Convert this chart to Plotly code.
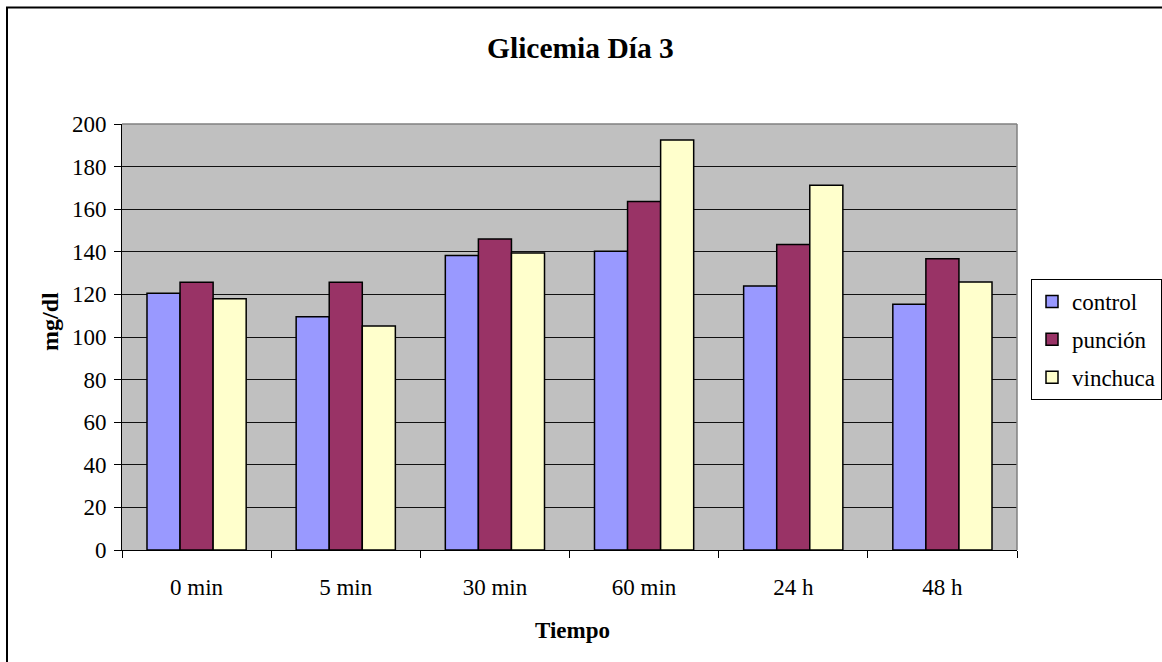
import plotly.graph_objects as go

# Glucose readings (mg/dl) on day 3, per time point and group
tiempos = ["0 min", "5 min", "30 min", "60 min", "24 h", "48 h"]
control = [120.5, 109.5, 138.3, 140.2, 123.9, 115.4]
puncion = [125.7, 125.7, 146.0, 163.6, 143.4, 136.7]
vinchuca = [118.0, 105.2, 139.4, 192.5, 171.3, 125.8]

serie_nombres = ["control", "punción", "vinchuca"]
serie_colores = ["#9999FF", "#993366", "#FFFFCC"]

FONT = "Liberation Serif"

W, H = 1162, 662
ML, MR, MT, MB = 122, 145, 124, 112
PW = W - ML - MR
PH = H - MT - MB

fig = go.Figure()
for nombre, valores, color in zip(serie_nombres, [control, puncion, vinchuca], serie_colores):
    fig.add_trace(go.Bar(
        name=nombre, x=tiempos, y=valores, legendgroup=nombre,
        marker=dict(color=color, line=dict(color="#000000", width=1.5)),
    ))


def px_x(px):
    return (px - ML) / PW


def px_y(py):
    return (H - MB - py) / PH


fig.update_layout(
    width=W, height=H,
    margin=dict(l=ML, r=MR, t=MT, b=MB, pad=0, autoexpand=False),
    paper_bgcolor="#FFFFFF",
    plot_bgcolor="#C0C0C0",
    barmode="group",
    bargap=0.335,
    bargroupgap=0,
    font=dict(family=FONT, size=23, color="#000000"),
    showlegend=True,
    legend=dict(
        x=px_x(1031), y=px_y(279), xanchor="left", yanchor="top",
        bgcolor="#FFFFFF", bordercolor="#000000", borderwidth=1,
        font=dict(family=FONT, size=23, color="#000000"),
        itemwidth=30, tracegroupgap=5,
    ),
    xaxis=dict(
        type="category",
        showline=True, linecolor="#000000", linewidth=1,
        ticks="outside", ticklen=7, tickcolor="#000000", tickwidth=1,
        tickson="boundaries", ticklabelstandoff=16,
        showgrid=False, mirror=False,
        tickfont=dict(family=FONT, size=23, color="#000000"),
    ),
    yaxis=dict(
        range=[0, 200], dtick=20, tick0=0,
        showline=True, linecolor="#000000", linewidth=1,
        ticks="outside", ticklen=7, tickcolor="#000000", tickwidth=1,
        ticklabelstandoff=3,
        showgrid=True, gridcolor="#111111", gridwidth=1,
        zeroline=False,
        tickfont=dict(family=FONT, size=23, color="#000000"),
    ),
    annotations=[
        dict(text="<b>Glicemia Día 3</b>", x=px_x(580), y=px_y(48),
             xref="paper", yref="paper", xanchor="center", yanchor="middle",
             showarrow=False, font=dict(family=FONT, size=29.5)),
        dict(text="<b>Tiempo</b>", x=px_x(572), y=px_y(630),
             xref="paper", yref="paper", xanchor="center", yanchor="middle",
             showarrow=False, font=dict(family=FONT, size=23)),
        dict(text="<b>mg/dl</b>", x=px_x(50), y=px_y(322), textangle=-90,
             xref="paper", yref="paper", xanchor="center", yanchor="middle",
             showarrow=False, font=dict(family=FONT, size=24)),
    ],
    shapes=[
        # grey frame on top and right of the plotting area
        dict(type="line", xref="paper", yref="paper", x0=0, x1=1, y0=1, y1=1,
             line=dict(color="#808080", width=1.5), layer="above"),
        dict(type="line", xref="paper", yref="paper", x0=1, x1=1, y0=0, y1=1,
             line=dict(color="#808080", width=1.5), layer="above"),
        # outer chart border
        dict(type="rect", xref="paper", yref="paper",
             x0=px_x(7), x1=px_x(1300), y0=px_y(7.5), y1=px_y(800),
             line=dict(color="#000000", width=2), fillcolor="rgba(0,0,0,0)"),
    ],
)

fig.write_html("out.html")
